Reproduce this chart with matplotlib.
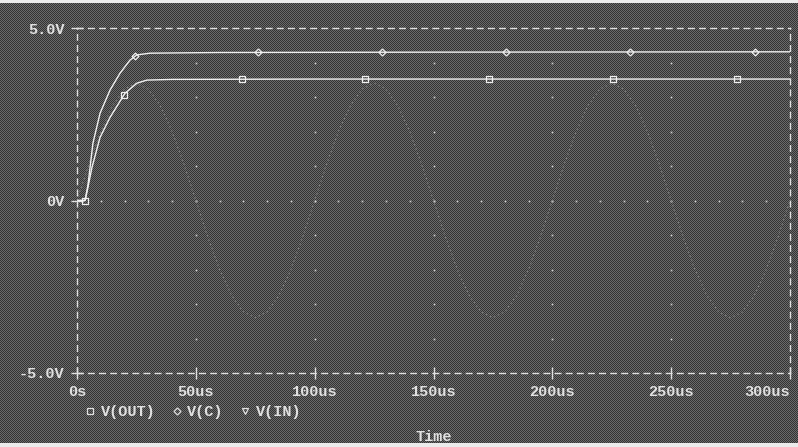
import matplotlib
matplotlib.use('Agg')
import matplotlib.pyplot as plt
from matplotlib.lines import Line2D
import numpy as np

# time axis in us, voltages in V
t_out = [0, 3.4, 4.5, 6.3, 9.7, 13.9, 20.2, 25.2, 29.4, 40, 100, 200, 300]
v_out = [0, 0, 0.35, 0.96, 1.83, 2.41, 3.11, 3.40, 3.49, 3.51, 3.52, 3.52, 3.52]

t_c = [0, 3.4, 4.6, 6.7, 9.7, 13.9, 18.1, 22.3, 25.2, 30.7, 60, 150, 300]
v_c = [0, 0, 0.44, 1.66, 2.53, 3.20, 3.69, 4.07, 4.22, 4.27, 4.29, 4.30, 4.31]

t_in = list(range(0, 301, 5))
v_in = [0, 1.05, 2.00, 2.75, 3.23, 3.40, 3.23, 2.75, 2.00, 1.05,
        0, -1.05, -2.00, -2.75, -3.23, -3.40, -3.23, -2.75, -2.00, -1.05,
        0, 1.05, 2.00, 2.75, 3.23, 3.40, 3.23, 2.75, 2.00, 1.05,
        0, -1.05, -2.00, -2.75, -3.23, -3.40, -3.23, -2.75, -2.00, -1.05,
        0, 1.05, 2.00, 2.75, 3.23, 3.40, 3.23, 2.75, 2.00, 1.05,
        0, -1.05, -2.00, -2.75, -3.23, -3.40, -3.23, -2.75, -2.00, -1.05,
        0]

out_marks = [3.4, 19.8, 69.4, 121.1, 173.3, 225.5, 277.7]
c_marks = [24.4, 76.1, 128.3, 180.5, 232.6, 285.2]

x_ticks = [0, 50, 100, 150, 200, 250, 300]
x_labels = ['0s', '50us', '100us', '150us', '200us', '250us', '300us']
y_ticks = [-5, 0, 5]
y_labels = ['-5.0V', '0V', '5.0V']

fg = '#e0e0e0'
mono = {'family': 'Liberation Mono', 'size': 11, 'weight': 'bold', 'color': fg}

fig = plt.figure(figsize=(7.98, 4.47), dpi=100, facecolor='#4a4a4a')

# dithered screen background
h, w = 447, 798
yy, xx = np.indices((h, w))
bg = np.where((xx + yy) % 2 == 0, 0.20, 0.42)
bg[:3, :] = 0.92
bg[-4:, :] = 0.92
fig.figimage(bg, cmap='gray', vmin=0, vmax=1, zorder=-10, origin='upper')

ax = fig.add_axes([77 / 798, 1 - 373 / 447, (790 - 77) / 798, (373 - 28) / 447])
ax.set_zorder(2)
ax.set_facecolor('none')
ax.set_xlim(0, 300)
ax.set_ylim(-5, 5)

# dot grid like the probe window
for tx in x_ticks[1:-1]:
    ax.plot([tx] * 9, list(range(-4, 5)), ls='none', marker='s', ms=1.2, color='#cfcfcf', mew=0)
ax.plot(list(range(10, 300, 10)), [0] * 29, ls='none', marker='s', ms=1.2, color='#cfcfcf', mew=0)

ax.plot(t_in, v_in, color='#7c7c7c', lw=0.8, ls=(0, (1.5, 2.5)))
ax.plot(t_c, v_c, color='#f0f0f0', lw=1.0)
ax.plot(t_out, v_out, color='#f0f0f0', lw=1.0)
ax.plot(out_marks, np.interp(out_marks, t_out, v_out), ls='none', marker='s', ms=5,
        mfc='none', mec='#f0f0f0', mew=0.9)
ax.plot(c_marks, np.interp(c_marks, t_c, v_c), ls='none', marker='D', ms=3.5,
        mfc='none', mec='#f0f0f0', mew=0.9)

for s in ax.spines.values():
    s.set_color(fg)
    s.set_linestyle((0, (4, 4)))
    s.set_linewidth(1.0)

ax.set_xticks(x_ticks, x_labels)
ax.set_yticks(y_ticks, y_labels)
ax.tick_params(colors=fg, direction='inout', length=8, width=1.0, pad=5)
for lab in ax.get_xticklabels() + ax.get_yticklabels():
    lab.set_fontfamily('Liberation Mono')
    lab.set_fontsize(11)
    lab.set_fontweight('bold')
    lab.set_color(fg)
ax.get_xticklabels()[-1].set_horizontalalignment('right')

handles = [Line2D([], [], ls='none', marker='s', ms=4, mfc='none', mec=fg, mew=0.9),
           Line2D([], [], ls='none', marker='D', ms=3.5, mfc='none', mec=fg, mew=0.9),
           Line2D([], [], ls='none', marker='v', ms=4, mfc='none', mec=fg, mew=0.9)]
leg = fig.legend(handles, ['V(OUT)', 'V(C)', 'V(IN)'], ncol=3, frameon=False,
                 loc='center left', bbox_to_anchor=(70 / 798, 1 - 412 / 447),
                 handlelength=0.8, handletextpad=0.3, columnspacing=1.0,
                 prop={'family': 'Liberation Mono', 'size': 11, 'weight': 'bold'})
for txt in leg.get_texts():
    txt.set_color(fg)

fig.text(434 / 798, 1 - 437 / 447, 'Time', ha='center', va='center', **mono)

plt.savefig('out.png', dpi=100)
